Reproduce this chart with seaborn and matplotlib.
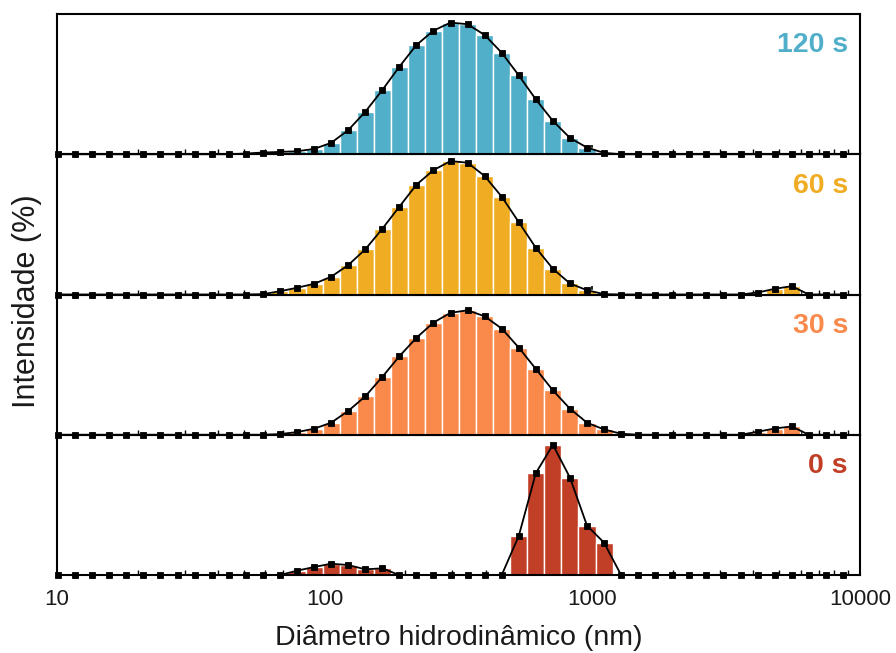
import numpy as np
import pandas as pd
import matplotlib
matplotlib.use("Agg")
import matplotlib.pyplot as plt
from matplotlib.ticker import LogLocator, NullFormatter
import seaborn as sns

# Size classes (nm) of the DLS instrument, 10 nm to 10 µm
diametro_nm = [10.10, 11.70, 13.54, 15.69, 18.17, 21.04, 24.36, 28.21, 32.67, 37.84,
               43.82, 50.75, 58.77, 68.06, 78.82, 91.28, 105.7, 122.4, 141.8, 164.2,
               190.1, 220.2, 255.0, 295.3, 342.0, 396.1, 458.7, 531.2, 615.1, 712.4,
               825.0, 955.4, 1106, 1281, 1484, 1718, 1990, 2305, 2669, 3091,
               3580, 4145, 4801, 5560, 6439, 7456, 8635]

# Intensity distributions (%) for each sonication time
int_120s = [0, 0, 0, 0, 0, 0, 0, 0, 0, 0, 0,
            0.06, 0.15, 0.20, 0.26, 0.46, 0.99, 2.09, 3.69, 5.58, 7.61, 9.50,
            10.75, 11.45, 11.31, 10.37, 8.83, 6.86, 4.77, 2.90, 1.42, 0.58, 0.12,
            0, 0, 0, 0, 0, 0, 0, 0, 0, 0, 0, 0, 0, 0]
int_60s = [0, 0, 0, 0, 0, 0, 0, 0, 0, 0, 0, 0,
           0.03, 0.28, 0.58, 0.92, 1.53, 2.53, 3.89, 5.67, 7.57, 9.47, 10.73,
           11.51, 11.37, 10.22, 8.44, 6.24, 4.03, 2.22, 0.95, 0.37, 0.03,
           0, 0, 0, 0, 0, 0, 0, 0,
           0.17, 0.49, 0.72,
           0, 0, 0]
int_30s = [0, 0, 0, 0, 0, 0, 0, 0, 0, 0, 0, 0, 0,
           0.06, 0.23, 0.52, 1.04, 2.05, 3.31, 4.99, 6.77, 8.36, 9.68, 10.52,
           10.74, 10.22, 9.16, 7.52, 5.68, 3.83, 2.25, 1.04, 0.46, 0.09,
           0, 0, 0, 0, 0, 0, 0,
           0.26, 0.54, 0.72,
           0, 0, 0]
int_0s = [0, 0, 0, 0, 0, 0, 0, 0, 0, 0, 0, 0, 0, 0,
          0.87, 1.61, 2.28, 2.02, 1.15, 1.35,
          0, 0, 0, 0, 0, 0, 0,
          7.87, 20.52, 26.23, 19.63, 9.95, 6.52,
          0, 0, 0, 0, 0, 0, 0, 0, 0, 0, 0, 0, 0, 0]

rotulos = ["120 s", "60 s", "30 s", "0 s"]
series = [int_120s, int_60s, int_30s, int_0s]
cores = ["#52AFC9", "#F0AC22", "#F98A4B", "#C13F26"]
y_max = [12.2, 12.1, 12.1, 28.25]

x_ticks = [10, 100, 1000, 10000]
x_ticklabels = ["10", "100", "1000", "10000"]

sns.set_theme(style="white")
plt.rcParams["font.family"] = ["Liberation Sans", "DejaVu Sans"]

fig, axes = plt.subplots(4, 1, figsize=(8.96, 6.53), dpi=100, sharex=True,
                         gridspec_kw=dict(hspace=0))
fig.subplots_adjust(left=0.0636, right=0.9598, top=0.9786, bottom=0.1194)

# Bin edges halfway between size classes, in log10 units
logd = np.log10(diametro_nm)
passo = np.diff(logd).mean()
meio = (logd[:-1] + logd[1:]) / 2
bordas = [float(v) for v in
          np.concatenate([[logd[0] - passo / 2], meio, [logd[-1] + passo / 2]])]

for i, (ax, rot, vals, cor, ym) in enumerate(zip(axes, rotulos, series, cores, y_max)):
    # upper panels drawn last so their baseline markers sit over the next panel
    ax.set_zorder(10 - i)
    ax.set_facecolor("none")
    df = pd.DataFrame({"diametro": diametro_nm, "intensidade": vals})
    sns.histplot(data=df, x="diametro", weights="intensidade", bins=bordas,
                 log_scale=True, ax=ax, color=cor, edgecolor="white",
                 linewidth=1.0, alpha=1, zorder=2)
    sns.lineplot(data=df, x="diametro", y="intensidade", ax=ax, color="black",
                 marker="s", markersize=4.4, markeredgecolor="black",
                 markeredgewidth=0.6, linewidth=1.3, clip_on=False, zorder=5)
    ax.set_ylim(0, ym)
    ax.set_xlim(10, 10000)
    ax.set_yticks([])
    ax.set_ylabel("")
    ax.set_xlabel("")
    for sp in ax.spines.values():
        sp.set_visible(True)
        sp.set_color("black")
        sp.set_linewidth(1.5)
        sp.set_zorder(3)
    ax.xaxis.set_minor_locator(LogLocator(base=10, subs=np.arange(2, 10)))
    ax.xaxis.set_minor_formatter(NullFormatter())
    ax.tick_params(axis="x", which="major", direction="in", length=6.5,
                   width=1.2, color="black", bottom=True, top=False)
    ax.tick_params(axis="x", which="minor", direction="in", length=3.5,
                   width=1.0, color="black", bottom=True, top=False)
    ax.text(0.985, 0.727, rot, transform=ax.transAxes, ha="right",
            va="baseline", fontsize=20.5, fontweight="bold", color=cor)

axes[-1].set_xticks(x_ticks)
axes[-1].set_xticklabels(x_ticklabels)
axes[-1].tick_params(axis="x", which="major", labelsize=16, pad=10,
                     labelcolor="#1a1a1a")
axes[-1].set_xlabel("Diâmetro hidrodinâmico (nm)", fontsize=20.5,
                    labelpad=11, color="#1a1a1a")
fig.text(0.03, 0.538, "Intensidade (%)", rotation=90, ha="center",
         va="center", fontsize=22, color="#1a1a1a")

fig.savefig("out.png", dpi=100)
